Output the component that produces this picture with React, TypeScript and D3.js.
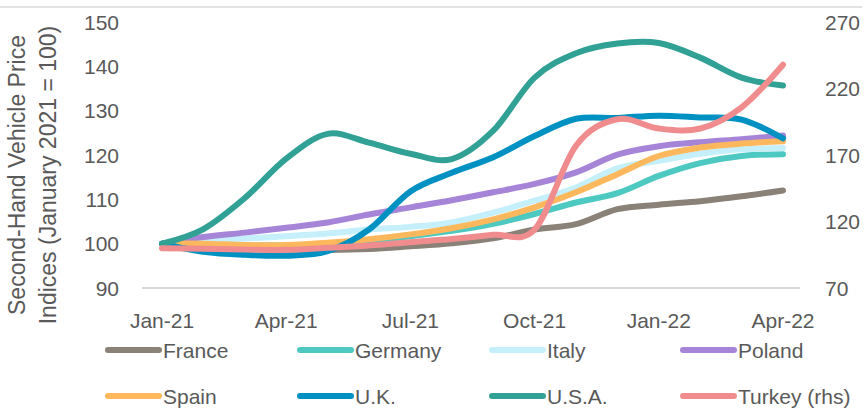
import React from "react";
import * as d3 from "d3";

const months = [
  "Jan-21", "Feb-21", "Mar-21", "Apr-21", "May-21", "Jun-21", "Jul-21", "Aug-21",
  "Sep-21", "Oct-21", "Nov-21", "Dec-21", "Jan-22", "Feb-22", "Mar-22", "Apr-22",
];
const xTickLabels = ["Jan-21", "Apr-21", "Jul-21", "Oct-21", "Jan-22", "Apr-22"];
const leftTicks = [90, 100, 110, 120, 130, 140, 150];
const rightTicks = [70, 120, 170, 220, 270];

const france = [100, 99.6, 99.1, 98.7, 98.6, 98.8, 99.4, 100.1, 101.2, 103.2, 104.4, 107.8, 108.8, 109.6, 110.7, 112];
const germany = [100, 99.8, 99.6, 99.6, 100, 100.7, 101.7, 102.9, 104.5, 106.7, 109.3, 111.4, 115.3, 118.2, 119.8, 120.2];
const italy = [100, 100.8, 101.2, 101.7, 102.3, 103.2, 103.8, 104.8, 107, 109.7, 112.7, 117, 118.7, 120.3, 121.3, 121.6];
const poland = [100, 101.5, 102.5, 103.6, 104.8, 106.6, 108.2, 109.8, 111.6, 113.5, 116.1, 120.1, 122, 122.9, 123.6, 124.4];
const spain = [100, 100, 99.7, 99.7, 100.2, 101, 102.1, 103.5, 105.5, 108.2, 111.6, 115.7, 119.8, 121.7, 122.6, 123.1];
const uk = [100, 98.2, 97.5, 97.3, 98.3, 103.2, 111.8, 116, 119.5, 124.3, 128.2, 128.4, 128.9, 128.5, 128, 123.8];
const usa = [100, 103.3, 110.3, 119.2, 124.8, 122.8, 120.3, 119.1, 125.5, 137.5, 143, 145.2, 145.3, 142, 137.5, 135.7];
const turkey = [100, 99.5, 99, 98.7, 100.2, 102, 104.5, 106.8, 110, 114, 177, 197, 190, 190, 206, 238];

const seriesNames = ["France", "Germany", "Italy", "Poland", "Spain", "U.K.", "U.S.A.", "Turkey (rhs)"];
const seriesData = [france, germany, italy, poland, spain, uk, usa, turkey];
const seriesColors = ["#8a8178", "#4ec9c1", "#c4effb", "#a685d8", "#fdb75c", "#0091c3", "#32a195", "#f18c8e"];
const seriesAxis = ["l", "l", "l", "l", "l", "l", "l", "r"];

const W = 864;
const H = 408;
const TEXT = "#595959";
const FONT = "'Liberation Sans', Arial, sans-serif";

export default function App() {
  const x = d3.scaleLinear().domain([0, months.length - 1]).range([162, 783]);
  const yL = d3.scaleLinear().domain([90, 150]).range([288, 22.2]);
  const yR = d3.scaleLinear().domain([70, 270]).range([288, 22.2]);

  const makeLine = (scale: d3.ScaleLinear<number, number>) =>
    d3
      .line<number>()
      .x((_, i) => x(i))
      .y((d) => scale(d))
      .curve(d3.curveCardinal.tension(0));

  const legendCols = [105, 297, 489, 680];
  const legendRows = [350, 396];

  return (
    <svg
      width={W}
      height={H}
      style={{ position: "absolute", left: 0, top: 0, background: "#fff" }}
      fontFamily={FONT}
    >
      <line x1={0} x2={862} y1={7} y2={7} stroke="#d9d9d9" strokeWidth={1.3} />
      <line x1={142} x2={800} y1={288} y2={288} stroke="#d9d9d9" strokeWidth={1.8} />

      {leftTicks.map((t) => (
        <text key={"l" + t} x={119} y={yL(t)} dy="0.36em" textAnchor="end" fontSize={21} fill={TEXT}>
          {t}
        </text>
      ))}
      {rightTicks.map((t) => (
        <text key={"r" + t} x={825} y={yR(t)} dy="0.36em" textAnchor="start" fontSize={21} fill={TEXT}>
          {t}
        </text>
      ))}
      {xTickLabels.map((lab) => (
        <text
          key={lab}
          x={x(months.indexOf(lab))}
          y={320}
          dy="0.36em"
          textAnchor="middle"
          fontSize={21}
          fill={TEXT}
        >
          {lab}
        </text>
      ))}

      <g transform="translate(17,175) rotate(-90)">
        <text x={0} y={0} dy="0.36em" textAnchor="middle" fontSize={23} fill={TEXT}>
          Second-Hand Vehicle Price
        </text>
      </g>
      <g transform="translate(48,175) rotate(-90)">
        <text x={0} y={0} dy="0.36em" textAnchor="middle" fontSize={23} fill={TEXT}>
          Indices (January 2021 = 100)
        </text>
      </g>

      {seriesData.map((d, i) => (
        <path
          key={seriesNames[i]}
          d={makeLine(seriesAxis[i] === "r" ? yR : yL)(d) || ""}
          fill="none"
          stroke={seriesColors[i]}
          strokeWidth={6}
          strokeLinecap="round"
          strokeLinejoin="round"
        />
      ))}

      {seriesNames.map((name, i) => {
        const cx = legendCols[i % 4];
        const cy = legendRows[Math.floor(i / 4)];
        return (
          <g key={"lg" + name}>
            <line x1={cx + 3} x2={cx + 54} y1={cy} y2={cy} stroke={seriesColors[i]} strokeWidth={6} strokeLinecap="round" />
            <text x={cx + 58} y={cy} dy="0.36em" fontSize={21} fill={TEXT}>
              {name}
            </text>
          </g>
        );
      })}
    </svg>
  );
}
